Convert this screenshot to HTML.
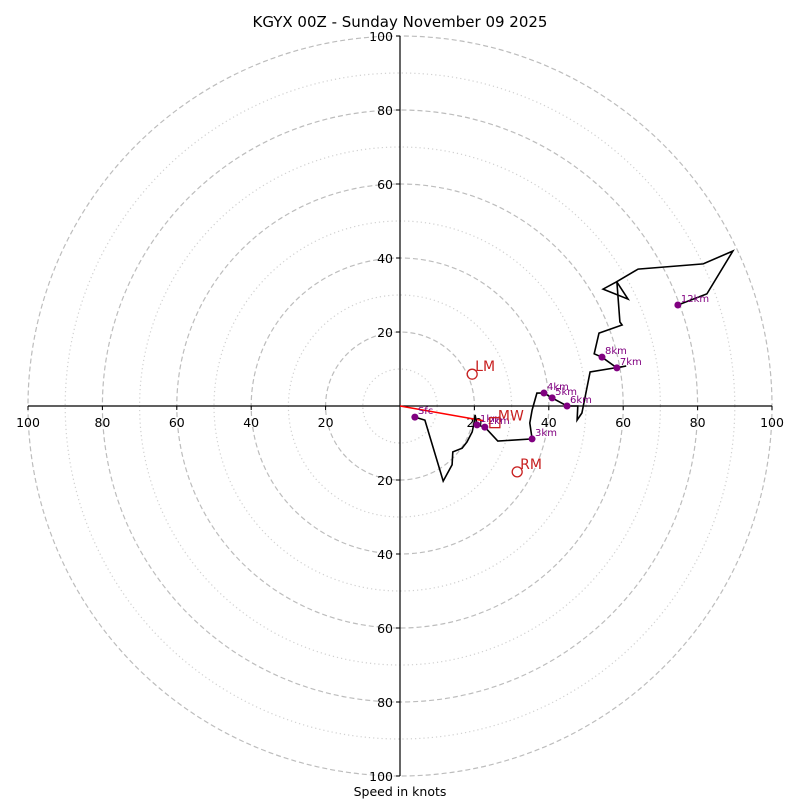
<!DOCTYPE html>
<html><head><meta charset="utf-8"><style>
body{margin:0;background:#fff;}
svg{display:block;font-family:"DejaVu Sans","Liberation Sans",sans-serif;}
</style></head><body>
<svg id="c" width="800" height="800" viewBox="0 0 800 800">
<rect width="800" height="800" fill="#fff"/>
<text x="400" y="27" text-anchor="middle" font-size="15" fill="#000">KGYX 00Z - Sunday November 09 2025</text>
<g id="rings"></g>
<g id="axes"></g>
<g id="series"></g>
<text x="400" y="796" text-anchor="middle" font-size="12.5" fill="#000">Speed in knots</text>
</svg>
<script>
const ringValues = [10,20,30,40,50,60,70,80,90,100];
const tickValues = [100,80,60,40,20,20,40,60,80,100];
const tickPositions = [-100,-80,-60,-40,-20,20,40,60,80,100];
const hodoU = [4.0,6.7,11.6,14.0,14.2,16.7,18.0,19.4,19.9,20.2,20.7,22.8,26.3,35.5,34.9,35.5,36.8,38.7,40.9,44.9,47.8,47.6,48.9,51.1,60.8,58.3,54.3,52.2,53.5,59.7,59.1,58.3,61.3,54.6,58.1,64.0,81.5,89.5,82.5,74.7];
const hodoV = [-3.0,-3.8,-20.3,-15.9,-12.4,-11.4,-9.7,-7.0,-4.6,-2.4,-5.1,-5.7,-9.5,-8.9,-4.6,-1.1,3.5,3.5,2.2,0,0,-3.8,-1.9,9.2,10.8,10.3,13.2,14.1,19.7,21.9,22.7,33.5,28.9,31.6,33.5,37.0,38.4,41.9,30.3,27.3];
const heightLabels = ["Sfc","1km","2km","3km","4km","5km","6km","7km","8km","12km"];
const heightIndex = [0,10,11,13,17,18,19,25,26,39];
const lmU = 19.4, lmV = 8.6;
const rmU = 31.5, rmV = -17.8;
const mwU = 25.5, mwV = -4.5;
const shearEndU = 22.5, shearEndV = -4.0;

const NS='http://www.w3.org/2000/svg';
const CX=400, CY=406, SX=3.72, SY=3.70;
const sx=u=>CX+u*SX, sy=v=>CY-v*SY;
function mk(tag,attrs,parent,txt){const e=document.createElementNS(NS,tag);for(const k in attrs)e.setAttribute(k,attrs[k]);if(txt!==undefined)e.textContent=txt;parent.appendChild(e);return e;}
const rings=document.getElementById('rings'), axes=document.getElementById('axes'), ser=document.getElementById('series');

ringValues.forEach(r=>{
  const major=r%20===0;
  const c=mk('ellipse',{cx:CX,cy:CY,rx:r*SX,ry:r*SY,fill:'none',stroke:major?'#bdbdbd':'#d0d0d0','stroke-width':1.2,'stroke-dasharray':major?'5,3':'1.2,3'},rings);
  
  
});
let l=mk('line',{x1:sx(-100),y1:CY,x2:sx(100),y2:CY,stroke:'#000','stroke-width':1.2},axes);


l=mk('line',{x1:CX,y1:sy(100),x2:CX,y2:sy(-100),stroke:'#000','stroke-width':1.2},axes);


tickPositions.forEach((p,i)=>{
  mk('line',{x1:sx(p),y1:CY,x2:sx(p),y2:CY+4,stroke:'#000'},axes);
  const t=mk('text',{x:sx(p),y:CY+21,'text-anchor':'middle','font-size':12.5},axes,tickValues[i]);
  
  
  mk('line',{x1:CX-4,y1:sy(p),x2:CX,y2:sy(p),stroke:'#000'},axes);
  const t2=mk('text',{x:CX-7,y:sy(p)+5,'text-anchor':'end','font-size':12.5},axes,tickValues[i]);
  
  
});
l=mk('line',{x1:sx(0),y1:sy(0),x2:sx(shearEndU),y2:sy(shearEndV),stroke:'red','stroke-width':1.5},ser);


const pts=hodoU.map((u,i)=>sx(u).toFixed(1)+','+sy(hodoV[i]).toFixed(1)).join(' ');
const pl=mk('polyline',{points:pts,fill:'none',stroke:'#000','stroke-width':1.6},ser);


heightIndex.forEach((idx,i)=>{
  const x=sx(hodoU[idx]), y=sy(hodoV[idx]);
  const d=mk('circle',{cx:x,cy:y,r:3.5,fill:'purple'},ser);
  
  
  const t=mk('text',{x:x+3,y:y-3,'font-size':10,fill:'purple'},ser,heightLabels[i]);
  
  
});
let c=mk('circle',{cx:sx(lmU),cy:sy(lmV),r:5,fill:'none',stroke:'#c82020','stroke-width':1.3},ser);


let t=mk('text',{x:sx(lmU)+3,y:sy(lmV)-3,'font-size':14,fill:'#c82020'},ser,'LM');


c=mk('circle',{cx:sx(rmU),cy:sy(rmV),r:5,fill:'none',stroke:'#c82020','stroke-width':1.3},ser);


t=mk('text',{x:sx(rmU)+3,y:sy(rmV)-3,'font-size':14,fill:'#c82020'},ser,'RM');


c=mk('rect',{x:sx(mwU)-5,y:sy(mwV)-5,width:10,height:10,fill:'none',stroke:'#c82020','stroke-width':1.3},ser);


t=mk('text',{x:sx(mwU)+3,y:sy(mwV)-2,'font-size':14,fill:'#c82020'},ser,'MW');


</script>
</body></html>
